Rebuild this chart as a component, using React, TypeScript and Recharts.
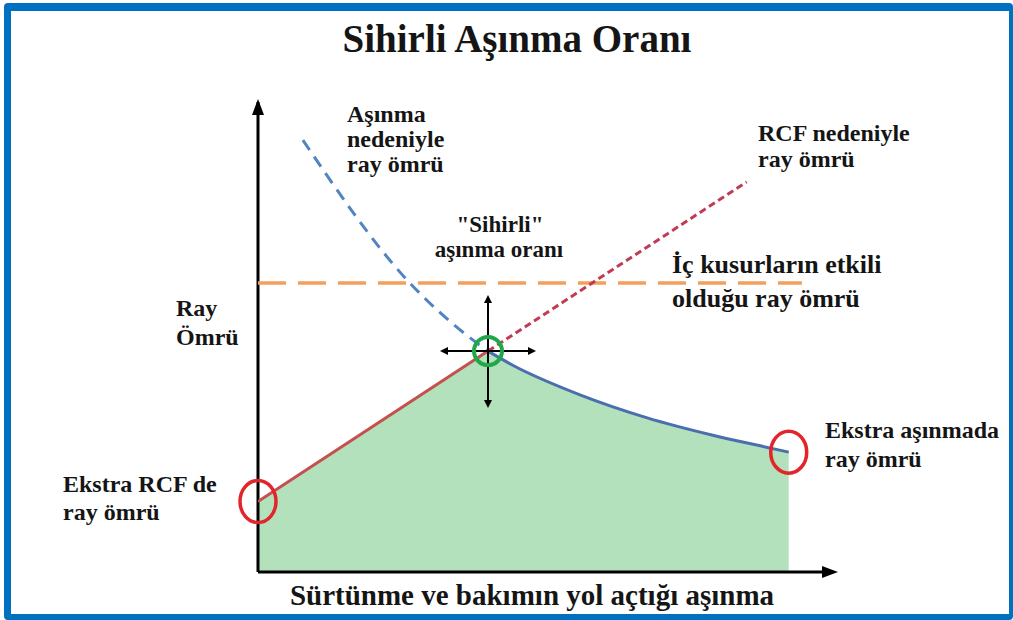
import { Area, ComposedChart, Customized, Line, ReferenceDot, ReferenceLine, XAxis, YAxis } from 'recharts';

// curve readings (x = wear, y = rail life, both 0-100)
const rcfSolidX = [0, 40];
const rcfSolidY = [15, 47];
const rcfDashX = [40, 85];
const rcfDashY = [47, 83];
const wearSolidX = [40, 44.3, 56, 67.7, 79.1, 89, 92.3];
const wearSolidY = [47, 44, 37.7, 32.8, 29.1, 26.4, 25.5];
const wearDashX = [7.8, 26.4, 36.9, 40];
const wearDashY = [91.9, 61.5, 49.8, 47];
const defectX = [0, 94.6];
const defectY = [61.5, 61.5];

const toPoints = (xs: number[], ys: number[]) => xs.map((x, i) => ({ x, y: ys[i] }));

const rcfSolid = toPoints(rcfSolidX, rcfSolidY);
const rcfDash = toPoints(rcfDashX, rcfDashY);
const wearSolid = toPoints(wearSolidX, wearSolidY);
const wearDash = toPoints(wearDashX, wearDashY);
const defectLine = toPoints(defectX, defectY);
const magicPoint = rcfSolid[rcfSolid.length - 1];
const extraRcf = rcfSolid[0];
const extraWear = wearSolid[wearSolid.length - 1];

const FONT = '"Liberation Serif", "Times New Roman", serif';
const INK = '#151515';
const GREEN_FILL = '#b2e1bc';

function YArrow({ cx, cy }: any) {
  return <path d={`M${cx},${cy - 3} L${cx - 6},${cy + 13} L${cx + 6},${cy + 13} Z`} fill="#000" />;
}

function XArrow({ cx, cy }: any) {
  return <path d={`M${cx + 5},${cy} L${cx - 11},${cy - 6} L${cx - 11},${cy + 6} Z`} fill="#000" />;
}

function Ring({ cx, cy }: any) {
  return <ellipse cx={cx} cy={cy} rx={18} ry={21} fill="none" stroke="#e3242b" strokeWidth={3.5} />;
}

function MagicMarker({ cx, cy }: any) {
  const h = 48;
  const up = 56;
  const down = 57;
  return (
    <g>
      <line x1={cx - h + 4} y1={cy} x2={cx + h - 4} y2={cy} stroke="#000" strokeWidth={2} />
      <line x1={cx} y1={cy - up + 4} x2={cx} y2={cy + down - 4} stroke="#000" strokeWidth={2} />
      <path d={`M${cx - h},${cy} l8,-4 l0,8 Z`} fill="#000" />
      <path d={`M${cx + h},${cy} l-8,-4 l0,8 Z`} fill="#000" />
      <path d={`M${cx},${cy - up} l-4,8 l8,0 Z`} fill="#000" />
      <path d={`M${cx},${cy + down} l-4,-8 l8,0 Z`} fill="#000" />
      <circle cx={cx} cy={cy} r={14} fill="none" stroke="#1fa84a" strokeWidth={4} />
    </g>
  );
}

function Annotations() {
  return (
    <g fontFamily={FONT} fontWeight="bold" fill={INK}>
      <text x={517} y={52} fontSize={39} textAnchor="middle">Sihirli Aşınma Oranı</text>

      <text x={347} y={122} fontSize={24}>Aşınma</text>
      <text x={347} y={147} fontSize={24}>nedeniyle</text>
      <text x={347} y={172} fontSize={24}>ray ömrü</text>

      <text x={500} y={232} fontSize={23} textAnchor="middle">"Sihirli"</text>
      <text x={499} y={257} fontSize={23} textAnchor="middle">aşınma oranı</text>

      <text x={758} y={141} fontSize={24}>RCF nedeniyle</text>
      <text x={758} y={167} fontSize={24}>ray ömrü</text>

      <text x={672} y={273} fontSize={26}>İç kusurların etkili</text>
      <text x={672} y={307} fontSize={26}>olduğu ray ömrü</text>

      <text x={176} y={316} fontSize={24}>Ray</text>
      <text x={176} y={345} fontSize={24}>Ömrü</text>

      <text x={63} y={492} fontSize={24}>Ekstra RCF de</text>
      <text x={63} y={520} fontSize={24}>ray ömrü</text>

      <text x={825} y={438} fontSize={24}>Ekstra aşınmada</text>
      <text x={825} y={467} fontSize={24}>ray ömrü</text>

      <text x={516} y={497} fontSize={28} textAnchor="middle">Ortalama ray ömrü</text>

      <text x={532} y={605} fontSize={29} textAnchor="middle">Sürtünme ve bakımın yol açtığı aşınma</text>
    </g>
  );
}

export default function App() {
  return (
    <div style={{ position: 'absolute', left: 0, top: 0, width: 1013, height: 620, background: '#fff' }}>
      <div
        style={{
          position: 'absolute',
          left: 4,
          top: 3,
          width: 1009,
          height: 617,
          boxSizing: 'border-box',
          borderStyle: 'solid',
          borderColor: '#0070c0',
          borderWidth: '8px 4px 6px 7px',
          borderRadius: 4,
        }}
      />
      <div style={{ position: 'absolute', left: 0, top: 0 }}>
        <ComposedChart width={1013} height={620} margin={{ top: 102, right: 180, bottom: 48, left: 258 }}>
          <XAxis type="number" dataKey="x" domain={[0, 100]} hide allowDataOverflow />
          <YAxis type="number" dataKey="y" domain={[0, 100]} hide allowDataOverflow />

          <Area data={rcfSolid} dataKey="y" type="linear" stroke="none" fill={GREEN_FILL} fillOpacity={1} isAnimationActive={false} activeDot={false} />
          <Area data={wearSolid} dataKey="y" type="monotone" stroke="none" fill={GREEN_FILL} fillOpacity={1} isAnimationActive={false} activeDot={false} />

          <ReferenceLine x={0} stroke="#000" strokeWidth={3} />
          <ReferenceLine y={0} stroke="#000" strokeWidth={3} />

          <Line data={defectLine} dataKey="y" type="linear" stroke="#f5a05a" strokeWidth={3.5} strokeDasharray="28 12" dot={false} activeDot={false} isAnimationActive={false} />
          <Line data={wearDash} dataKey="y" type="monotone" stroke="#5284c2" strokeWidth={3} strokeDasharray="12 8" dot={false} activeDot={false} isAnimationActive={false} />
          <Line data={rcfDash} dataKey="y" type="linear" stroke="#c23b55" strokeWidth={3} strokeDasharray="7 4" dot={false} activeDot={false} isAnimationActive={false} />
          <Line data={rcfSolid} dataKey="y" type="linear" stroke="#c4504f" strokeWidth={3} dot={false} activeDot={false} isAnimationActive={false} />
          <Line data={wearSolid} dataKey="y" type="monotone" stroke="#4a6eae" strokeWidth={3} dot={false} activeDot={false} isAnimationActive={false} />

          <ReferenceDot x={0} y={100} r={0} ifOverflow="visible" shape={YArrow} />
          <ReferenceDot x={100} y={0} r={0} ifOverflow="visible" shape={XArrow} />
          <ReferenceDot x={extraRcf.x} y={extraRcf.y} r={0} ifOverflow="visible" shape={Ring} />
          <ReferenceDot x={extraWear.x} y={extraWear.y} r={0} ifOverflow="visible" shape={Ring} />
          <ReferenceDot x={magicPoint.x} y={magicPoint.y} r={0} ifOverflow="visible" shape={MagicMarker} />

          <Customized component={Annotations} />
        </ComposedChart>
      </div>
    </div>
  );
}
